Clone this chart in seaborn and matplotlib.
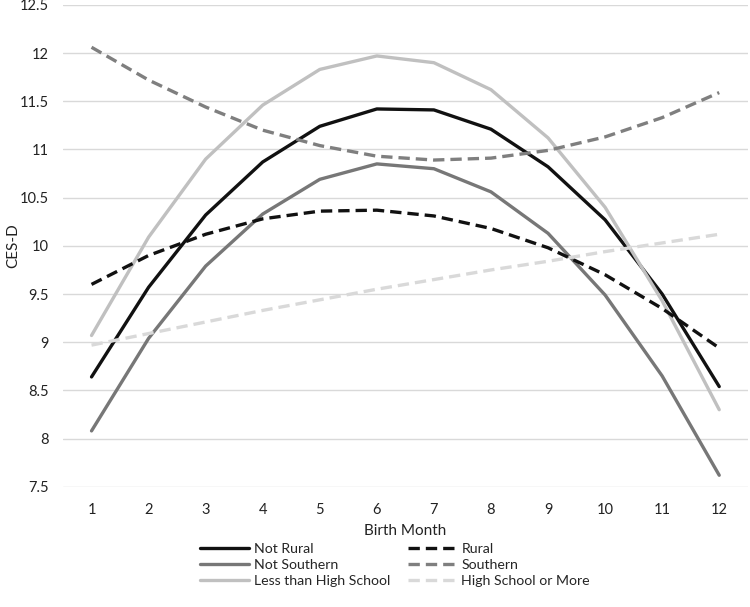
import seaborn as sns
import matplotlib.pyplot as plt
import pandas as pd

# birth month on x, CES-D score on y
months = list(range(1, 13))

not_rural = [8.64, 9.57, 10.32, 10.87, 11.24, 11.42, 11.41, 11.21, 10.82, 10.27, 9.50, 8.54]
rural = [9.60, 9.90, 10.12, 10.28, 10.36, 10.37, 10.31, 10.18, 9.98, 9.70, 9.35, 8.94]
not_southern = [8.08, 9.04, 9.79, 10.33, 10.69, 10.85, 10.80, 10.56, 10.13, 9.49, 8.65, 7.62]
southern = [12.06, 11.72, 11.44, 11.20, 11.04, 10.93, 10.89, 10.91, 10.99, 11.13, 11.33, 11.59]
less_than_hs = [9.07, 10.09, 10.90, 11.46, 11.83, 11.97, 11.90, 11.62, 11.12, 10.40, 9.43, 8.30]
hs_or_more = [8.97, 9.09, 9.21, 9.33, 9.44, 9.55, 9.65, 9.75, 9.84, 9.94, 10.03, 10.12]

y_ticks = [7.5, 8, 8.5, 9, 9.5, 10, 10.5, 11, 11.5, 12, 12.5]
y_tick_labels = ['7.5', '8', '8.5', '9', '9.5', '10', '10.5', '11', '11.5', '12', '12.5']

# order matters: legend fills column by column
series = [
    ('Not Rural', not_rural, '#111111', False),
    ('Not Southern', not_southern, '#777777', False),
    ('Less than High School', less_than_hs, '#c0c0c0', False),
    ('Rural', rural, '#111111', True),
    ('Southern', southern, '#7f7f7f', True),
    ('High School or More', hs_or_more, '#d9d9d9', True),
]

sns.set_style('white')
plt.rcParams['font.family'] = ['Lato', 'DejaVu Sans']

fig = plt.figure(figsize=(7.5, 6.07), dpi=100)
ax = fig.add_axes([0.084, 0.198, 0.913, 0.794])

for name, values, color, dashed in series:
    df = pd.DataFrame({'Birth Month': months, 'CES-D': values})
    sns.lineplot(data=df, x='Birth Month', y='CES-D', ax=ax, color=color,
                 linewidth=2.4, label=name)
    if dashed:
        ax.lines[-1].set_dashes((3.4, 1.8))

ax.set_xlim(0.5, 12.5)
ax.set_ylim(7.5, 12.5)
ax.set_xticks(months)
ax.set_yticks(y_ticks)
ax.set_yticklabels(y_tick_labels)
ax.tick_params(axis='x', length=0, labelsize=10.5, colors='#222222', pad=12)
ax.tick_params(axis='y', length=0, labelsize=10.5, colors='#222222', pad=10)
ax.yaxis.grid(True, color='#d9d9d9', linewidth=1)
ax.set_axisbelow(True)
for s in ax.spines.values():
    s.set_visible(False)

ax.set_xlabel('Birth Month', fontsize=11, color='#222222', labelpad=5)
ax.set_ylabel('CES-D', fontsize=11, color='#222222')
ax.yaxis.set_label_coords(-0.063, 0.5)

handles, labels = ax.get_legend_handles_labels()
ax.get_legend().remove()
fig.legend(handles, labels, loc='upper center', bbox_to_anchor=(0.527, 0.127), ncol=2,
           frameon=False, fontsize=10.2, handlelength=3.4, handletextpad=0.35,
           columnspacing=1.3, labelspacing=0.3)

plt.savefig('out.png', dpi=100)
